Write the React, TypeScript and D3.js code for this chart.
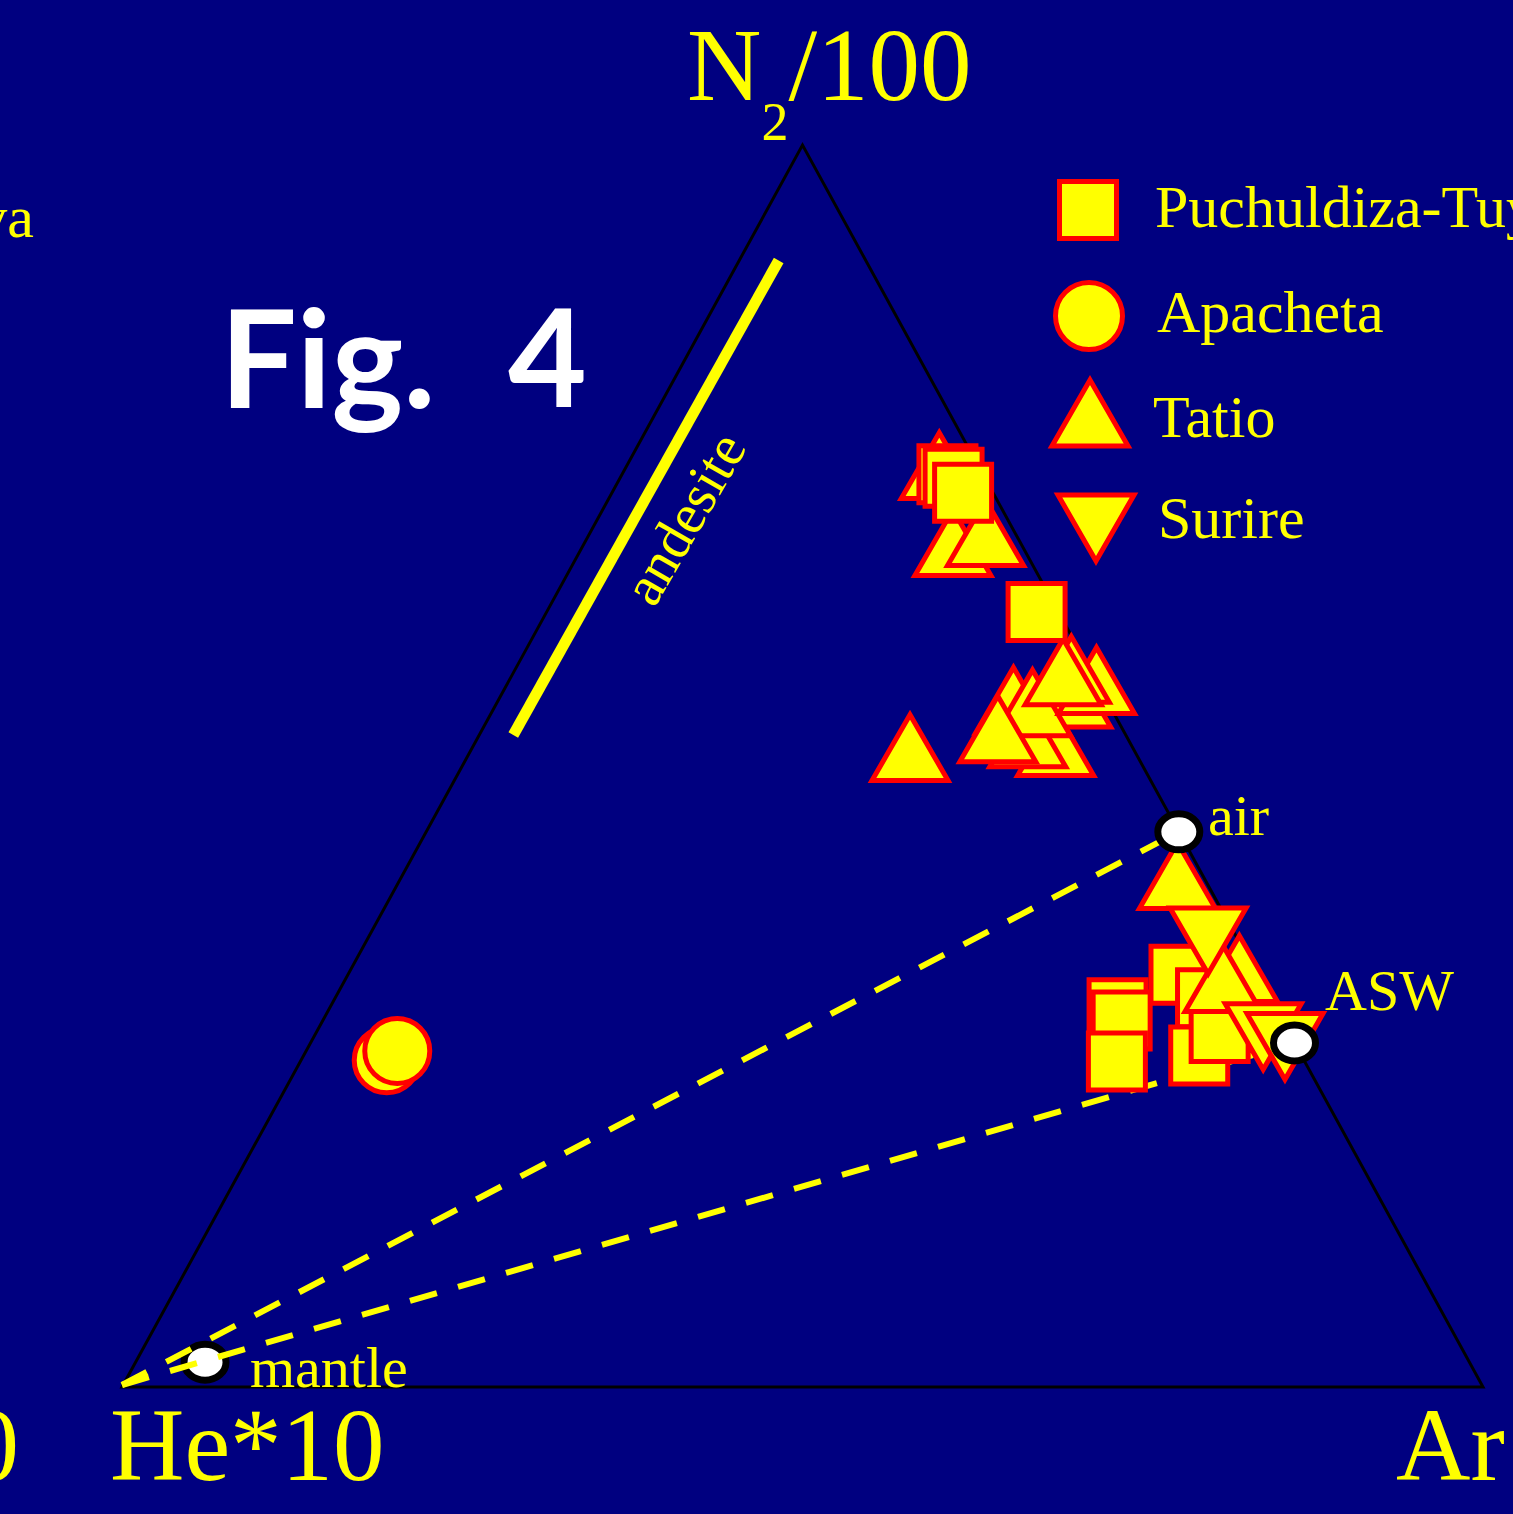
import React from 'react';
import * as d3 from 'd3';

// compositions in %, as [N2/100, Ar]; He*10 is the remainder
const puchuldiza: [number, number][] = [
  [73.5, 23.9], [73.2, 24.5], [72.0, 25.8], [62.4, 36.0],
  [30.5, 57.9], [29.5, 58.7], [26.2, 60.0], [33.2, 61.1],
  [31.3, 64.0], [26.7, 65.8], [28.5, 66.4],
];
const apacheta: [number, number][] = [[26.3, 6.3], [27.05, 6.7]];
const tatio: [number, number][] = [
  [73.3, 23.4], [67.1, 27.5], [67.9, 29.5], [50.6, 32.6],
  [51.0, 43.1], [51.7, 40.7], [54.9, 42.4], [54.4, 38.3],
  [54.2, 39.8], [56.0, 43.6], [56.9, 41.3], [52.1, 38.3],
  [56.7, 40.8], [40.3, 57.4], [32.8, 65.7], [32.0, 64.9],
];
const surire: [number, number][] = [[36.8, 61.4], [29.1, 69.3], [28.3, 71.3]];

const air: [number, number] = [44.7, 55.3];
const asw: [number, number] = [27.7, 72.3];
const mantle: [number, number] = [2.0, 5.1];
const andesite: [number, number][] = [[90.7, 2.9], [52.5, 2.5]];

const legendItems = ['Puchuldiza-Tuya', 'Apacheta', 'Tatio', 'Surire'];

const NAVY = '#000080';
const YELLOW = '#ffff00';
const RED = '#ff0000';
const SERIF = '"Liberation Serif", "Times New Roman", serif';

const x = d3.scaleLinear().domain([0, 100]).range([122, 1483]);
const y = d3.scaleLinear().domain([0, 100]).range([1387, 145]);
const project = ([n2, ar]: [number, number]): [number, number] => [x(ar + n2 / 2), y(n2)];

const squarePath = d3.symbol(d3.symbolSquare, 57 * 57)()!;
const circlePath = d3.symbol(d3.symbolCircle, Math.PI * 32.5 * 32.5)()!;
const trianglePath = d3.symbol(d3.symbolTriangle, 2501)()!;

const Marker = ({ d, path, rotate = 0 }: { d: [number, number]; path: string; rotate?: number }) => {
  const [px, py] = project(d);
  return (
    <path
      d={path}
      transform={`translate(${px},${py}) rotate(${rotate})`}
      fill={YELLOW}
      stroke={RED}
      strokeWidth={5}
    />
  );
};

const EndMember = ({ d }: { d: [number, number] }) => {
  const [px, py] = project(d);
  return <ellipse cx={px} cy={py} rx={21} ry={18} fill="#fff" stroke="#000" strokeWidth={7} />;
};

export default function App() {
  const corners: [number, number][] = [[0, 0], [100, 0], [0, 100]];
  const frame = corners.map(project);
  const he = project([0, 0]);
  const dashLine = (to: [number, number]) => {
    const [tx, ty] = project(to);
    return (
      <line x1={he[0]} y1={he[1] - 2} x2={tx} y2={ty} stroke={YELLOW} strokeWidth={6} strokeDasharray="28 22" />
    );
  };
  const [a1, a2] = andesite.map(project);

  return (
    <svg
      width={1513}
      height={1514}
      style={{ position: 'absolute', left: 0, top: 0, background: NAVY }}
    >
      <rect width={1513} height={1514} fill={NAVY} />

      <polygon points={frame.map((p) => p.join(',')).join(' ')} fill="none" stroke="#000" strokeWidth={3} />

      {/* andesite line */}
      <line x1={a1[0]} y1={a1[1]} x2={a2[0]} y2={a2[1]} stroke={YELLOW} strokeWidth={11} />
      <text
        transform="translate(701,528) rotate(-60)"
        textAnchor="middle"
        fontFamily={SERIF}
        fontSize={57}
        fill={YELLOW}
      >
        andesite
      </text>

      <EndMember d={mantle} />
      {dashLine(air)}
      {dashLine(asw)}

      {tatio.filter((d) => d[0] > 45).map((d, i) => <Marker key={'tu' + i} d={d} path={trianglePath} />)}
      {puchuldiza.map((d, i) => <Marker key={'p' + i} d={d} path={squarePath} />)}
      {apacheta.map((d, i) => <Marker key={'a' + i} d={d} path={circlePath} />)}
      {tatio.filter((d) => d[0] <= 45).map((d, i) => <Marker key={'tl' + i} d={d} path={trianglePath} />)}
      {surire.map((d, i) => <Marker key={'s' + i} d={d} path={trianglePath} rotate={180} />)}

      <EndMember d={air} />
      <EndMember d={asw} />

      <g fontFamily={SERIF} fill={YELLOW} fontSize={58}>
        <text x={1208} y={835}>air</text>
        <text x={1325} y={1010}>ASW</text>
        <text x={250} y={1387}>mantle</text>
      </g>

      {/* axis labels */}
      <g fontFamily={SERIF} fill={YELLOW} fontSize={103}>
        <text x={687} y={100}>
          N<tspan fontSize={54} dy={40}>2</tspan>
          <tspan dy={-40}>/100</tspan>
        </text>
        <text x={110} y={1480}>He*10</text>
        <text x={1396} y={1480}>Ar</text>
        <text x={19} y={1480} textAnchor="end">0</text>
      </g>
      <text x={34} y={237} textAnchor="end" fontFamily={SERIF} fontSize={60} fill={YELLOW}>va</text>

      <g fontFamily='"Comic Sans MS", Lato, sans-serif' fontWeight="bold" fontSize={136} fill="#fff">
        <text x={220} y={408}>Fig.</text>
        <text x={508} y={407}>4</text>
      </g>

      {/* legend */}
      <g>
        <path d={squarePath} transform="translate(1088,210)" fill={YELLOW} stroke={RED} strokeWidth={5} />
        <path d={d3.symbol(d3.symbolCircle, Math.PI * 33.5 * 33.5)()!} transform="translate(1089,316)" fill={YELLOW} stroke={RED} strokeWidth={5} />
        <path d={trianglePath} transform="translate(1090,424)" fill={YELLOW} stroke={RED} strokeWidth={5} />
        <path d={trianglePath} transform="translate(1096,517) rotate(180)" fill={YELLOW} stroke={RED} strokeWidth={5} />
        <g fontFamily={SERIF} fontSize={60} fill={YELLOW}>
          {legendItems.map((t, i) => (
            <text key={t} x={[1155, 1157, 1153, 1158][i]} y={[227, 332, 437, 538][i]}>{t}</text>
          ))}
        </g>
      </g>
    </svg>
  );
}
